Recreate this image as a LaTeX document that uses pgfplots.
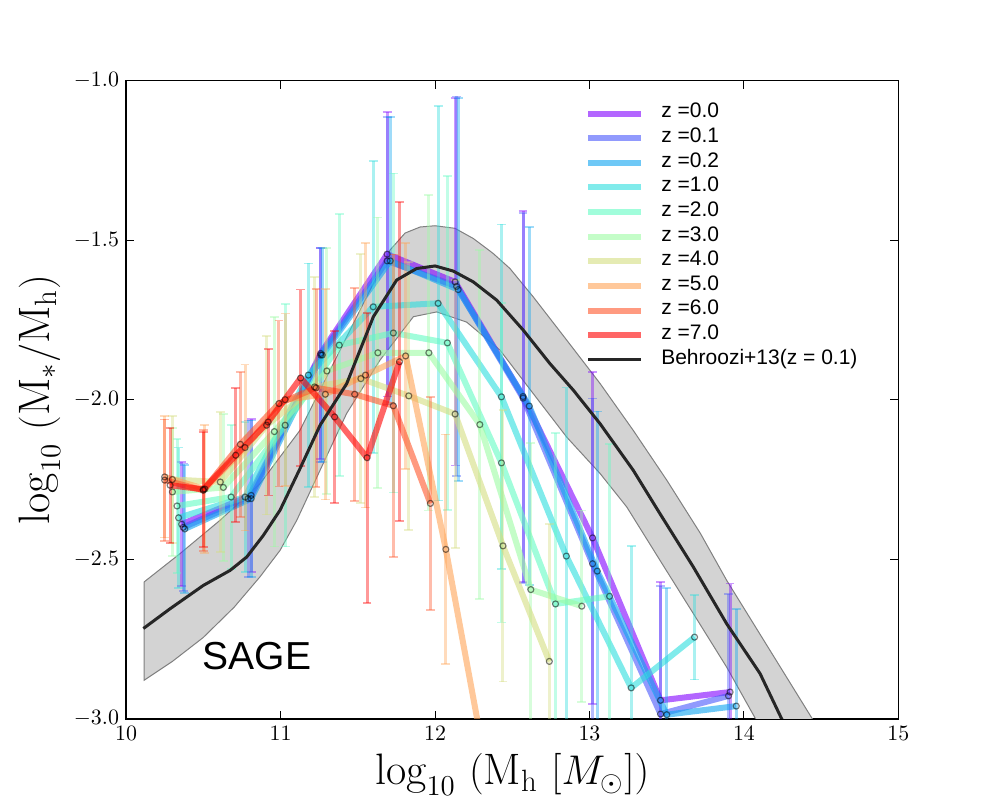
\documentclass[border=0pt]{standalone}
\usepackage{pgfplots}
\pgfplotsset{compat=1.18}
\usepackage{pgfplotstable}
\usepackage{fontspec}
\newfontfamily\sansfont{Liberation Sans}

% rainbow colour map, ten redshifts
\definecolor{c0}{rgb}{0.500,0.000,1.000}
\definecolor{c1}{rgb}{0.278,0.342,0.985}
\definecolor{c2}{rgb}{0.056,0.643,0.940}
\definecolor{c3}{rgb}{0.167,0.866,0.866}
\definecolor{c4}{rgb}{0.389,0.985,0.766}
\definecolor{c5}{rgb}{0.611,0.985,0.643}
\definecolor{c6}{rgb}{0.833,0.866,0.500}
\definecolor{c7}{rgb}{1.000,0.643,0.342}
\definecolor{c8}{rgb}{1.000,0.342,0.174}
\definecolor{c9}{rgb}{1.000,0.000,0.000}
\definecolor{bandgray}{RGB}{211,211,211}

% x = log10 Mh, y = log10 (M*/Mh), e = error
\pgfplotstableread{
x y e
10.36 -2.390 0.195
10.81 -2.300 0.240
11.26 -1.855 0.330
11.69 -1.544 0.446
12.13 -1.631 0.575
12.57 -1.990 0.580
13.02 -2.433 0.520
13.46 -2.942 0.370
13.91 -2.916 0.340
}\zA
\pgfplotstableread{
x y e
10.37 -2.400 0.200
10.79 -2.310 0.245
11.26 -1.860 0.335
11.69 -1.565 0.450
12.14 -1.645 0.595
12.57 -1.995 0.580
13.02 -2.514 0.518
13.46 -2.985 0.400
13.90 -2.928 0.318
}\zB
\pgfplotstableread{
x y e
10.38 -2.405 0.200
10.81 -2.310 0.245
11.27 -1.860 0.335
11.71 -1.565 0.450
12.15 -1.655 0.600
12.61 -2.020 0.560
13.05 -2.537 0.500
13.50 -2.987 0.398
13.95 -2.960 0.303
}\zC
\pgfplotstableread{
x y e
10.34 -2.370 0.220
10.77 -2.305 0.234
11.18 -1.923 0.350
11.60 -1.709 0.458
12.02 -1.698 0.618
12.43 -1.991 0.540
12.85 -2.490 0.528
13.27 -2.903 0.445
13.68 -2.744 0.133
}\zD
\pgfplotstableread{
x y e
10.33 -2.333 0.210
10.68 -2.305 0.225
11.03 -2.080 0.380
11.38 -1.829 0.410
11.73 -1.791 0.500
12.08 -1.822 0.523
12.43 -2.198 0.500
12.78 -2.640 0.536
13.13 -2.616 0.476
}\zE
\pgfplotstableread{
x y e
10.30 -2.289 0.200
10.63 -2.275 0.230
10.96 -2.100 0.360
11.30 -1.910 0.386
11.63 -1.853 0.424
11.96 -1.853 0.494
12.29 -2.078 0.547
12.62 -2.595 0.460
12.95 -2.647 0.300
}\zF
\pgfplotstableread{
x y e
10.30 -2.250 0.200
10.61 -2.258 0.220
10.91 -2.080 0.280
11.22 -1.960 0.345
11.52 -1.934 0.390
11.83 -1.988 0.420
12.13 -2.045 0.420
12.44 -2.458 0.425
12.74 -2.820 0.430
}\zG
\pgfplotstableread{
x y e
10.25 -2.242 0.190
10.51 -2.280 0.200
10.77 -2.150 0.260
11.03 -2.000 0.270
11.29 -1.983 0.330
11.55 -1.923 0.415
11.81 -1.863 0.355
12.07 -2.469 0.360
12.33 -3.150 0.000
}\zH
\pgfplotstableread{
x y e
10.25 -2.252 0.190
10.50 -2.284 0.190
10.74 -2.140 0.227
10.99 -2.012 0.260
11.23 -1.963 0.310
11.48 -1.983 0.334
11.73 -2.019 0.474
11.97 -2.325 0.333
}\zI
\pgfplotstableread{
x y e
10.285 -2.268 0.180
10.50 -2.281 0.180
10.71 -2.174 0.210
10.92 -2.070 0.230
11.13 -1.932 0.277
11.35 -2.054 0.270
11.56 -2.182 0.454
11.77 -1.881 0.500
}\zJ

\pgfplotsset{
  zseries/.style={
    #1, draw opacity=0.6, line width=3pt, line join=round,
    mark=o, mark size=1.5pt,
    mark options={draw=black, draw opacity=0.5, fill=none, line width=0.6pt}},
  zbars/.style={
    forget plot, draw=none, mark=none,
    error bars/.cd, y dir=both, y explicit,
    error bar style={#1, line width=1.5pt, opacity=0.4},
    error mark options={#1, rotate=90, mark size=2.2pt, line width=0.9pt, opacity=0.4}},
}

\newcommand\series[2]{%
  \addplot[zbars=#2] table[x=x, y=y, y error=e] {#1};
  \addplot[zseries=#2, forget plot] table[x=x, y=y] {#1};
}

\begin{document}
\begin{tikzpicture}
\begin{axis}[
  name=main,
  scale only axis, width=386pt, height=319pt,
  xmin=10, xmax=15, ymin=-3, ymax=-1,
  xtick={10,11,12,13,14,15},
  ytick={-3,-2.5,-2,-1.5,-1},
  yticklabel style={/pgf/number format/.cd, fixed, fixed zerofill, precision=1},
  xtick pos=both, ytick pos=both, tick align=inside,
  major tick length=4pt, minor tick num=0,
  every tick/.style={black, line width=0.5pt},
  axis line style={line width=0.8pt},
  tick label style={font=\fontsize{10.5}{12}\selectfont},
  label style={font=\fontsize{22}{26}\selectfont},
  xlabel={$\log_{10}\ (\mathrm{M_h}\ [M_\odot])$},
  ylabel={$\log_{10}\ (\mathrm{M_*/M_h})$},
  legend style={draw=none, fill=none, at={(axis description cs:0.594,0.968)},
    anchor=north west, inner sep=0pt, row sep=0pt, column sep=8.5pt,
    font=\fontsize{10.5}{12}\sansfont,
    nodes={inner sep=0pt, text height=8.3pt, text depth=4pt}},
  legend cell align=left,
  legend image code/.code={\draw[#1] (0pt,0pt) -- (26.5pt,0pt);},
]

% Behroozi+13 scatter band
\addplot[fill=bandgray, draw=gray, line width=0.5pt, forget plot] coordinates {
 (10.117,-2.571) (10.350,-2.482) (10.608,-2.378) (10.867,-2.263) (10.997,-2.179)
 (11.126,-2.096) (11.385,-1.845) (11.579,-1.657) (11.709,-1.531) (11.806,-1.478)
 (11.903,-1.459) (12.000,-1.455) (12.129,-1.463) (12.248,-1.495) (12.377,-1.542)
 (12.485,-1.589) (12.636,-1.678) (12.852,-1.813) (13.068,-1.949) (13.283,-2.096)
 (13.500,-2.252) (13.718,-2.419) (13.888,-2.566) (14.104,-2.735) (14.449,-3.005)
 (14.700,-3.200)
 (14.306,-3.200) (14.082,-3.006) (13.888,-2.838) (13.672,-2.670) (13.456,-2.503)
 (13.241,-2.336) (13.068,-2.231) (12.852,-2.117) (12.636,-1.981) (12.421,-1.845)
 (12.205,-1.757) (12.011,-1.725) (11.860,-1.740) (11.644,-1.876) (11.428,-2.043)
 (11.256,-2.221) (11.105,-2.378) (10.997,-2.472) (10.867,-2.555) (10.700,-2.650)
 (10.500,-2.745) (10.300,-2.820) (10.117,-2.879) (10.117,-2.571)
};

\series{\zA}{c0}
\series{\zB}{c1}
\series{\zC}{c2}
\series{\zD}{c3}
\series{\zE}{c4}
\series{\zF}{c5}
\series{\zG}{c6}
\series{\zH}{c7}
\series{\zI}{c8}
\series{\zJ}{c9}

% Behroozi+13 median relation
\addplot[black!85, line width=1.5pt, forget plot] coordinates {
 (10.112,-2.717) (10.285,-2.655) (10.500,-2.582) (10.673,-2.535) (10.781,-2.493)
 (10.889,-2.425) (10.997,-2.346) (11.126,-2.216) (11.256,-2.080) (11.428,-1.950)
 (11.601,-1.740) (11.752,-1.625) (11.881,-1.589) (12.000,-1.581) (12.118,-1.597)
 (12.248,-1.631) (12.399,-1.688) (12.571,-1.782) (12.744,-1.887) (12.895,-1.970)
 (13.068,-2.075) (13.283,-2.221) (13.456,-2.357) (13.672,-2.524) (13.888,-2.702)
 (14.104,-2.858) (14.244,-3.000) (14.400,-3.120)
};

\addlegendimage{c0, draw opacity=0.6, line width=3pt}\addlegendentry{z =0.0}
\addlegendimage{c1, draw opacity=0.6, line width=3pt}\addlegendentry{z =0.1}
\addlegendimage{c2, draw opacity=0.6, line width=3pt}\addlegendentry{z =0.2}
\addlegendimage{c3, draw opacity=0.6, line width=3pt}\addlegendentry{z =1.0}
\addlegendimage{c4, draw opacity=0.6, line width=3pt}\addlegendentry{z =2.0}
\addlegendimage{c5, draw opacity=0.6, line width=3pt}\addlegendentry{z =3.0}
\addlegendimage{c6, draw opacity=0.6, line width=3pt}\addlegendentry{z =4.0}
\addlegendimage{c7, draw opacity=0.6, line width=3pt}\addlegendentry{z =5.0}
\addlegendimage{c8, draw opacity=0.6, line width=3pt}\addlegendentry{z =6.0}
\addlegendimage{c9, draw opacity=0.6, line width=3pt}\addlegendentry{z =7.0}
\addlegendimage{black!85, line width=1.5pt}\addlegendentry{Behroozi+13(z = 0.1)}

\node[font=\fontsize{19.5}{22}\sansfont] at (axis cs:10.848,-2.804) {SAGE};
\end{axis}
\pgfresetboundingbox
\path ([shift={(-63pt,-40.5pt)}]main.south west) rectangle ([shift={(50.75pt,40.25pt)}]main.north east);
\end{tikzpicture}
\end{document}
